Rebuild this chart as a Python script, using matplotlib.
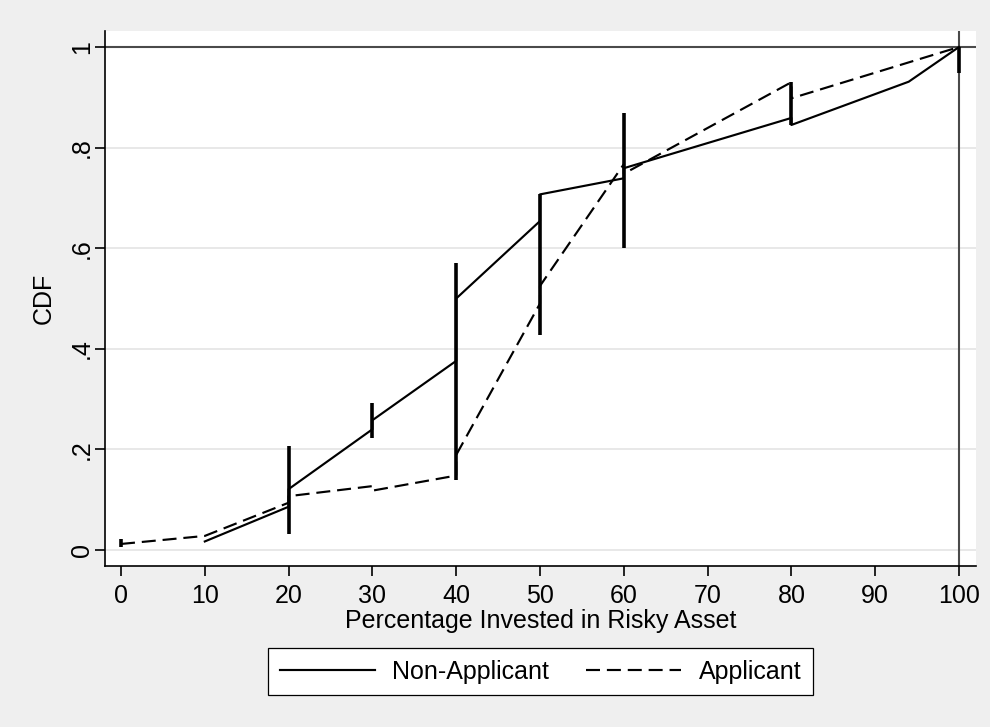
import matplotlib
matplotlib.use("Agg")
import matplotlib.pyplot as plt

# CDF of percentage invested in risky asset
non_app_x = [10, 20, 20, 30, 30, 40, 40, 50, 50, 60, 60, 80, 80, 94, 100]
non_app_y = [0.017, 0.086, 0.121, 0.240, 0.258, 0.376, 0.500, 0.654, 0.707,
             0.739, 0.759, 0.859, 0.845, 0.931, 1.0]

app_x = [0, 10, 20, 20, 30, 30, 40, 40, 50, 50, 60, 60, 80, 80, 100]
app_y = [0.012, 0.028, 0.094, 0.107, 0.127, 0.118, 0.148, 0.189, 0.490,
         0.525, 0.767, 0.748, 0.930, 0.898, 1.0]

# vertical spikes
spike_x = [0, 20, 30, 40, 50, 60, 80, 100]
spike_lo = [0.006, 0.032, 0.222, 0.139, 0.427, 0.600, 0.845, 0.948]
spike_hi = [0.022, 0.207, 0.293, 0.570, 0.707, 0.869, 0.930, 1.0]

x_ticks = [0, 10, 20, 30, 40, 50, 60, 70, 80, 90, 100]
y_ticks = [0, 0.2, 0.4, 0.6, 0.8, 1.0]
y_labels = ["0", ".2", ".4", ".6", ".8", "1"]

plt.rcParams['font.family'] = ['Liberation Sans', 'DejaVu Sans']
plt.rcParams['font.size'] = 18

bg = '#efefef'
fig = plt.figure(figsize=(9.9, 7.27), dpi=100, facecolor=bg)
ax = fig.add_axes([105 / 990, 1 - 566 / 727, 871 / 990, 535 / 727])
ax.set_facecolor('white')

ax.set_xlim(-1.91, 102.03)
ax.set_ylim(-0.0318, 1.0318)

# grid & reference lines
for yv in y_ticks[:-1]:
    ax.axhline(yv, color='#e4e4e4', lw=1.2, zorder=0)
ax.axhline(1, color='#4a4a4a', lw=1.5, zorder=1)
ax.axvline(100, color='#4a4a4a', lw=1.5, zorder=1)

ax.vlines(spike_x, spike_lo, spike_hi, color='black', lw=2.6, zorder=3)
ax.plot(non_app_x, non_app_y, color='black', lw=1.55, label='Non-Applicant', zorder=4)
ax.plot(app_x, app_y, color='black', lw=1.55, linestyle=(0, (6.5, 3.2)),
        label='Applicant', zorder=4)

for s in ['top', 'right']:
    ax.spines[s].set_visible(False)
for s in ['left', 'bottom']:
    ax.spines[s].set_color('black')
    ax.spines[s].set_linewidth(1.2)

ax.set_xticks(x_ticks)
ax.set_yticks(y_ticks)
ax.set_yticklabels(y_labels, rotation=90, va='center')
ax.tick_params(length=7, width=1.2, pad=6, colors='black')
ax.tick_params(axis='y', pad=1)

ax.set_xlabel("Percentage Invested in Risky Asset", labelpad=1)
ax.set_ylabel("CDF", labelpad=10)

leg = fig.legend(loc='center', bbox_to_anchor=(540.5 / 990, 1 - 671.5 / 727),
                 ncol=2, frameon=True, fancybox=False, handlelength=3.8,
                 handletextpad=0.7, columnspacing=1.5, borderpad=0.45,
                 edgecolor='black', facecolor='white', framealpha=1)
leg.get_frame().set_linewidth(0.9)

fig.savefig('out.png', dpi=100, facecolor=bg)
